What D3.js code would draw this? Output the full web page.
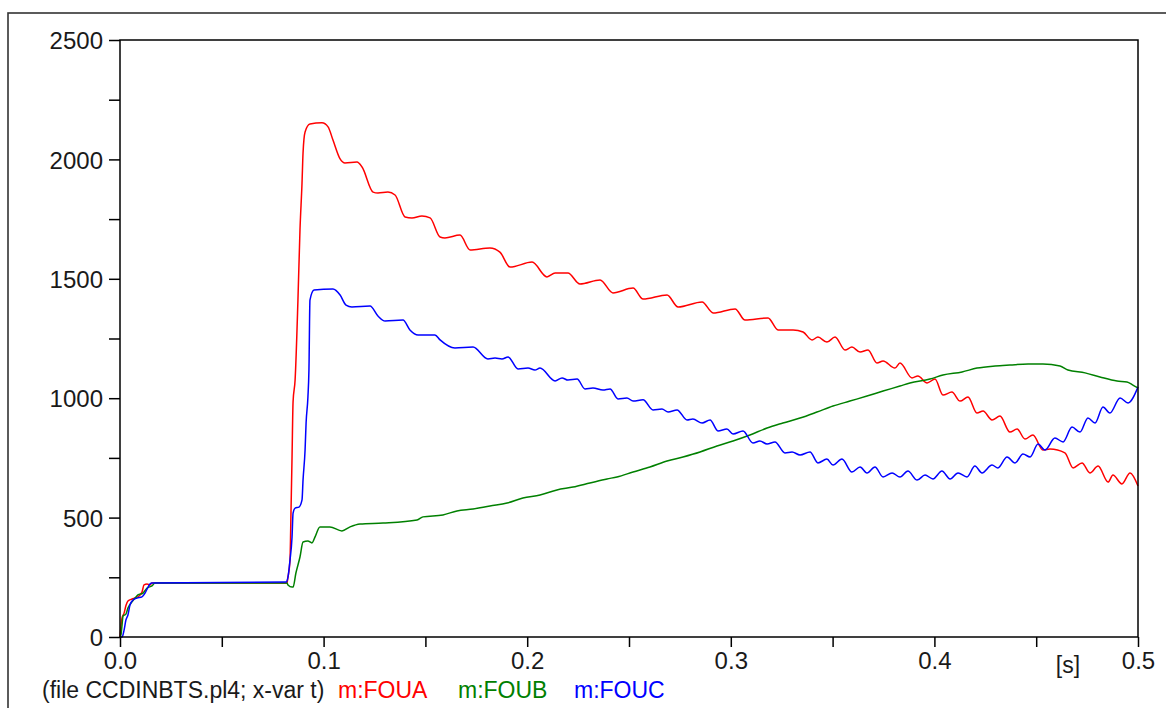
<!DOCTYPE html>
<html>
<head>
<meta charset="utf-8">
<script src="https://cdn.jsdelivr.net/npm/d3@7"></script>
<style>
  html, body { margin: 0; padding: 0; background: #fff; }
  svg { display: block; }
  text { font-family: "Liberation Sans", Arial, sans-serif; }
</style>
</head>
<body>
<svg id="chart" width="1166" height="708"></svg>
<script>
// ---------- DATA ----------
const xDomain = [0, 0.5];
const yDomain = [0, 2500];
const xMajorTicks = [0, 0.1, 0.2, 0.3, 0.4, 0.5];
const xTickLabels = ["0.0", "0.1", "0.2", "0.3", "0.4", "0.5"];
const xMinorTicks = [0.05, 0.15, 0.25, 0.35, 0.45];
const yMajorTicks = [0, 500, 1000, 1500, 2000, 2500];
const yTickLabels = ["0", "500", "1000", "1500", "2000", "2500"];
const yMinorTicks = [250, 750, 1250, 1750, 2250];
const xUnitLabel = "[s]";
const fileLabel = "(file CCDINBTS.pl4; x-var t)";
const seriesNames = ["m:FOUA", "m:FOUB", "m:FOUC"];
const seriesColors = ["#ff0000", "#008000", "#0000ff"];

// m:FOUA  [t (s), value]
const fouaPoints = [
  [0,0],[0.0010,80],[0.0020,100],[0.0030,134],[0.0039,151],[0.0059,159],[0.0074,163],
  [0.0088,168],[0.0108,188],[0.0118,218],[0.0133,222],[0.0147,218],[0.0157,226],
  [0.0820,226],[0.0825,251],[0.0835,322],[0.0840,532],[0.0845,754],[0.0850,984],
  [0.0860,1076],[0.0874,1411],[0.0884,1704],[0.0894,1901],[0.0899,2027],[0.0909,2115],
  [0.0933,2148],[0.0992,2153],[0.1022,2136],[0.1046,2081],[0.1081,2002],[0.1105,1985],
  [0.1164,1989],[0.1189,1968],[0.1243,1863],[0.1267,1859],[0.1316,1863],[0.1351,1851],
  [0.1400,1759],[0.1434,1755],[0.1483,1763],[0.1523,1755],[0.1572,1675],[0.1596,1671],
  [0.1670,1683],[0.1719,1621],[0.1817,1629],[0.1866,1612],[0.1916,1549],[0.2024,1570],
  [0.2097,1508],[0.2137,1524],[0.2200,1524],[0.2259,1478],[0.2358,1495],[0.2421,1441],
  [0.2520,1461],[0.2569,1415],[0.2687,1432],[0.2741,1382],[0.2859,1403],[0.2913,1357],
  [0.3021,1374],[0.3070,1327],[0.3183,1336],[0.3232,1286],[0.3306,1286],[0.3355,1277],
  [0.3399,1244],[0.3428,1256],[0.3472,1235],[0.3512,1256],[0.3561,1202],[0.3595,1214],
  [0.3635,1193],[0.3674,1202],[0.3718,1147],[0.3748,1156],[0.3806,1126],[0.3831,1147],
  [0.3890,1085],[0.3919,1093],[0.3964,1064],[0.4003,1080],[0.4042,1013],[0.4086,1026],
  [0.4126,988],[0.4165,1005],[0.4209,938],[0.4239,946],[0.4283,909],[0.4322,925],
  [0.4371,858],[0.4406,871],[0.4445,829],[0.4484,846],[0.4533,783],[0.4568,787],
  [0.4641,771],[0.4681,708],[0.4725,729],[0.4764,687],[0.4804,716],[0.4853,649],
  [0.4877,678],[0.4921,641],[0.4961,687],[0.5000,632]
];

// m:FOUB
const foubPoints = [
  [0,0],[0.0005,10],[0.0010,50],[0.0015,88],[0.0029,96],[0.0039,121],[0.0059,147],
  [0.0074,163],[0.0088,176],[0.0113,184],[0.0133,205],[0.0157,214],[0.0172,226],
  [0.0820,226],[0.0825,218],[0.0845,209],[0.0850,209],[0.0864,268],[0.0884,335],
  [0.0899,398],[0.0923,402],[0.0943,394],[0.0958,419],[0.0982,461],[0.1031,461],
  [0.1090,444],[0.1130,461],[0.1179,473],[0.1292,477],[0.1459,490],[0.1488,503],
  [0.1586,511],[0.1655,528],[0.1734,536],[0.1817,549],[0.1901,561],[0.1979,582],
  [0.2063,595],[0.2146,616],[0.2225,628],[0.2308,645],[0.2392,662],[0.2441,670],
  [0.2520,691],[0.2603,712],[0.2687,737],[0.2765,754],[0.2849,775],[0.2932,800],
  [0.3011,821],[0.3094,846],[0.3178,875],[0.3256,896],[0.3340,917],[0.3423,942],
  [0.3502,967],[0.3585,988],[0.3669,1009],[0.3748,1030],[0.3831,1051],[0.3880,1064],
  [0.3978,1080],[0.4042,1097],[0.4136,1110],[0.4209,1126],[0.4298,1135],[0.4371,1139],
  [0.4460,1143],[0.4533,1143],[0.4617,1135],[0.4656,1118],[0.4740,1106],[0.4813,1089],
  [0.4897,1072],[0.4946,1068],[0.4975,1055],[0.5000,1043]
];

// m:FOUC
const foucPoints = [
  [0,0],[0.0010,0],[0.0020,29],[0.0029,71],[0.0039,92],[0.0049,134],[0.0064,155],
  [0.0083,163],[0.0108,168],[0.0123,184],[0.0138,209],[0.0147,222],[0.0157,226],
  [0.0815,230],[0.0825,251],[0.0835,322],[0.0845,419],[0.0850,519],[0.0860,540],
  [0.0879,544],[0.0894,574],[0.0899,657],[0.0909,783],[0.0914,896],[0.0923,1005],
  [0.0928,1118],[0.0933,1411],[0.0953,1453],[0.1046,1457],[0.1081,1432],[0.1110,1390],
  [0.1139,1382],[0.1228,1386],[0.1267,1344],[0.1302,1323],[0.1390,1327],[0.1424,1286],
  [0.1464,1265],[0.1547,1265],[0.1572,1244],[0.1645,1210],[0.1734,1214],[0.1807,1164],
  [0.1842,1168],[0.1876,1164],[0.1906,1173],[0.1955,1122],[0.2004,1126],[0.2038,1118],
  [0.2063,1126],[0.2137,1072],[0.2171,1085],[0.2200,1076],[0.2245,1080],[0.2284,1039],
  [0.2323,1043],[0.2372,1034],[0.2407,1039],[0.2446,997],[0.2490,1001],[0.2520,988],
  [0.2569,993],[0.2618,951],[0.2662,955],[0.2692,942],[0.2736,951],[0.2785,909],
  [0.2814,913],[0.2859,896],[0.2898,909],[0.2937,863],[0.2981,871],[0.3011,850],
  [0.3060,863],[0.3109,812],[0.3143,821],[0.3178,808],[0.3217,817],[0.3266,771],
  [0.3301,775],[0.3340,762],[0.3389,775],[0.3428,729],[0.3472,745],[0.3502,720],
  [0.3546,745],[0.3595,691],[0.3635,712],[0.3669,687],[0.3708,712],[0.3748,670],
  [0.3792,687],[0.3831,670],[0.3870,695],[0.3915,657],[0.3954,678],[0.3993,662],
  [0.4037,695],[0.4077,662],[0.4116,687],[0.4160,670],[0.4199,716],[0.4234,687],
  [0.4283,720],[0.4312,708],[0.4357,754],[0.4396,729],[0.4435,766],[0.4470,754],
  [0.4509,808],[0.4543,783],[0.4592,833],[0.4632,817],[0.4676,879],[0.4715,858],
  [0.4754,917],[0.4789,896],[0.4828,963],[0.4862,938],[0.4912,1001],[0.4951,980],
  [0.5000,1047]
];
const seriesData = [fouaPoints, foubPoints, foucPoints];

// ---------- DRAWING ----------
const svg = d3.select("#chart");
const plot = { left: 120, right: 1138, top: 40, bottom: 637 };

const x = d3.scaleLinear().domain(xDomain).range([plot.left, plot.right]);
const y = d3.scaleLinear().domain(yDomain).range([plot.bottom, plot.top]);

svg.append("rect").attr("width", 1166).attr("height", 708).attr("fill", "#fff");

// outer frame (runs off the right and bottom edges)
svg.append("rect")
  .attr("x", 8).attr("y", 13).attr("width", 1300).attr("height", 900)
  .attr("fill", "none").attr("stroke", "#333").attr("stroke-width", 1.6);

// curves
const line = d3.line().x(d => x(d[0])).y(d => y(d[1])).curve(d3.curveMonotoneX);
const gLines = svg.append("g");
seriesData.forEach((pts, i) => {
  gLines.append("path")
    .datum(pts)
    .attr("d", line)
    .attr("fill", "none")
    .attr("stroke", seriesColors[i])
    .attr("stroke-width", 1.5)
    .attr("stroke-linejoin", "round");
});

// axes
const tickLen = 11;
const yAxis = d3.axisLeft(y)
  .tickValues(yMajorTicks)
  .tickFormat((d, i) => yTickLabels[i])
  .tickSize(tickLen).tickPadding(6);
const gy = svg.append("g").attr("transform", `translate(${plot.left},0)`).call(yAxis);

const yMinor = d3.axisLeft(y).tickValues(yMinorTicks).tickFormat("").tickSize(tickLen);
svg.append("g").attr("transform", `translate(${plot.left},0)`).call(yMinor);

const xAxis = d3.axisBottom(x)
  .tickValues(xMajorTicks)
  .tickFormat((d, i) => xTickLabels[i])
  .tickSize(10).tickPadding(5);
const gx = svg.append("g").attr("transform", `translate(0,${plot.bottom})`).call(xAxis);

const xMinor = d3.axisBottom(x).tickValues(xMinorTicks).tickFormat("").tickSize(10);
svg.append("g").attr("transform", `translate(0,${plot.bottom})`).call(xMinor);

svg.selectAll(".domain").remove();
svg.selectAll(".tick line").attr("stroke", "#000").attr("stroke-width", 1.5);
svg.selectAll(".tick text")
  .attr("font-family", '"Liberation Sans", Arial, sans-serif')
  .attr("font-size", 24).attr("fill", "#1a1a1a");
gy.selectAll(".tick text").attr("dy", "0.36em");
gx.selectAll(".tick text").attr("dy", "0.7em");

// plot box
svg.append("rect")
  .attr("x", plot.left).attr("y", plot.top)
  .attr("width", plot.right - plot.left).attr("height", plot.bottom - plot.top)
  .attr("fill", "none").attr("stroke", "#000").attr("stroke-width", 1.5);

// unit label
svg.append("text").attr("x", 1068).attr("y", 673).attr("text-anchor", "middle")
  .attr("font-size", 23).attr("fill", "#1a1a1a").text(xUnitLabel);

// legend line
const legendY = 698;
svg.append("text").attr("x", 42).attr("y", legendY)
  .attr("font-size", 23).attr("fill", "#1a1a1a").text(fileLabel);
const legendX = [338, 458, 574];
seriesNames.forEach((n, i) => {
  svg.append("text").attr("x", legendX[i]).attr("y", legendY)
    .attr("font-size", 23).attr("fill", seriesColors[i]).text(n);
});
</script>
</body>
</html>
